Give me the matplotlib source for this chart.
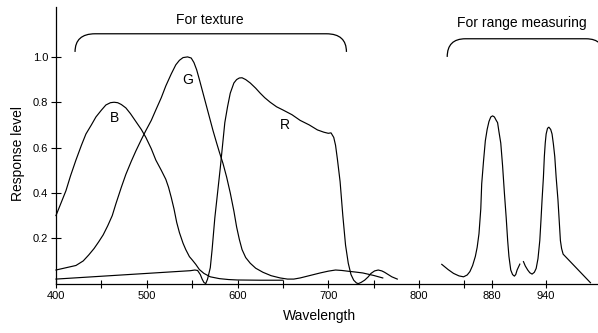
import matplotlib
matplotlib.use("Agg")
import matplotlib.pyplot as plt
from matplotlib.path import Path
from matplotlib.patches import PathPatch

plt.rcParams['font.family'] = ['Liberation Sans', 'DejaVu Sans']

# ---- data ----
b_wl = [400, 405, 411, 416, 422, 428, 433, 439, 444, 450, 455, 460, 464, 468, 472, 477, 482, 488, 494,
        499, 505, 510, 516, 521, 524, 527, 530, 533, 536, 540, 543, 547, 550, 554, 558, 563, 570, 580,
        590, 600, 625, 650]
b_val = [0.30, 0.35, 0.41, 0.475, 0.545, 0.61, 0.66, 0.70, 0.735, 0.765, 0.788, 0.798, 0.80, 0.798, 0.79,
         0.775, 0.75, 0.715, 0.68, 0.645, 0.595, 0.545, 0.50, 0.46, 0.425, 0.38, 0.33, 0.27, 0.225, 0.178,
         0.15, 0.119, 0.105, 0.085, 0.062, 0.045, 0.03, 0.022, 0.018, 0.016, 0.015, 0.015]

g_wl = [400, 411, 422, 430, 436, 442, 447, 452, 457, 462, 466, 472, 477, 483, 488, 494, 499, 505, 510,
        516, 521, 527, 532, 536, 540, 545, 549, 552, 555, 558, 562, 566, 570, 573, 577, 580, 584, 588,
        592, 596, 599, 602, 605, 609, 614, 620, 628, 637, 647, 655, 662, 669, 680, 691, 700, 708, 715,
        721, 730, 738, 750, 760]
g_val = [0.06, 0.07, 0.08, 0.10, 0.126, 0.155, 0.184, 0.215, 0.255, 0.30, 0.352, 0.425, 0.482, 0.54, 0.585,
         0.635, 0.675, 0.72, 0.766, 0.82, 0.872, 0.925, 0.965, 0.985, 0.997, 1.0, 0.995, 0.975, 0.943,
         0.90, 0.84, 0.78, 0.72, 0.675, 0.62, 0.58, 0.53, 0.47, 0.40, 0.32, 0.25, 0.195, 0.15, 0.115,
         0.09, 0.068, 0.05, 0.035, 0.025, 0.02, 0.02, 0.025, 0.036, 0.047, 0.055, 0.06, 0.058, 0.055,
         0.051, 0.047, 0.036, 0.025]

r_wl = [400, 480, 548, 553, 556, 559, 561, 563, 565, 567, 570, 572, 575, 578, 581, 584, 586, 589, 592,
        596, 599, 602, 605, 609, 614, 620, 625, 630, 636, 643, 650, 660, 669, 679, 688, 695, 700, 703,
        706, 708, 710, 713, 716, 719, 722, 725, 728, 731, 733, 736, 740, 744, 747, 751, 755, 759, 762,
        766, 770, 776]
r_val = [0.02, 0.04, 0.057, 0.06, 0.058, 0.04, 0.02, 0.005, 0.0, 0.02, 0.07, 0.15, 0.29, 0.40, 0.51,
         0.63, 0.71, 0.78, 0.84, 0.885, 0.90, 0.907, 0.908, 0.90, 0.885, 0.862, 0.84, 0.82, 0.80, 0.78,
         0.766, 0.745, 0.72, 0.70, 0.678, 0.668, 0.663, 0.665, 0.645, 0.61, 0.55, 0.45, 0.30, 0.17,
         0.09, 0.04, 0.015, 0.003, 0.0, 0.005, 0.015, 0.03, 0.045, 0.056, 0.06, 0.056, 0.05, 0.04,
         0.03, 0.02]

ir1_wl = [825, 832, 838, 844, 849, 853, 856, 859, 862, 864, 866, 868, 869, 871, 873, 875, 877, 879, 881,
          883, 885, 886.5, 888, 890, 892, 894, 896, 897.6, 899, 901, 903, 905, 906.5, 908, 911]
ir1_val = [0.085, 0.062, 0.045, 0.034, 0.03, 0.038, 0.053, 0.08, 0.12, 0.16, 0.22, 0.33, 0.44, 0.54,
           0.63, 0.68, 0.715, 0.735, 0.74, 0.735, 0.72, 0.71, 0.67, 0.62, 0.52, 0.40, 0.29, 0.19, 0.12,
           0.06, 0.04, 0.033, 0.04, 0.06, 0.086]

ir2_wl = [915, 917, 919.7, 922, 924.5, 927, 929, 931, 933, 934.3, 935.5, 937, 938, 939, 940, 941.5, 943,
          945, 946.5, 948, 949.5, 951, 953, 954.5, 955.7, 957, 958.7, 988.8]
ir2_val = [0.097, 0.078, 0.06, 0.048, 0.042, 0.05, 0.067, 0.11, 0.19, 0.28, 0.37, 0.47, 0.56, 0.62,
           0.66, 0.685, 0.69, 0.68, 0.66, 0.615, 0.56, 0.47, 0.37, 0.27, 0.19, 0.155, 0.13, 0.004]

curve_labels = ["B", "G", "R"]
curve_label_wl = [465, 545.5, 652]
curve_label_val = [0.73, 0.90, 0.70]

x_ticks = [400, 450, 500, 550, 600, 650, 700, 750, 800, 850, 880, 940]
x_tick_labels = ["400", "", "500", "", "600", "", "700", "", "800", "", "880", "940"]
y_ticks = [0.2, 0.4, 0.6, 0.8, 1.0]
y_tick_labels = ["0.2", "0.4", "0.6", "0.8", "1.0"]

groups = ["For texture", "For range measuring"]
group_start = [421, 831]
group_end = [720, 1004]
group_text_wl = [570, 913]

# ---- figure ----
fig = plt.figure(figsize=(5.98, 3.33), dpi=100)
ax = fig.add_axes([0.0936, 0.1483, 0.9047, 0.8306])

lw = 0.85
for wl, val in [(b_wl, b_val), (g_wl, g_val), (r_wl, r_val), (ir1_wl, ir1_val), (ir2_wl, ir2_val)]:
    ax.plot(wl, val, color='black', lw=lw, clip_on=False, solid_joinstyle='round')

for lab, xw, yv in zip(curve_labels, curve_label_wl, curve_label_val):
    ax.text(xw, yv, lab, ha='center', va='center', fontsize=10)

ax.set_xlim(400, 996)
ax.set_ylim(0, 1.22)
ax.spines['top'].set_visible(False)
ax.spines['right'].set_visible(False)
for s in ['left', 'bottom']:
    ax.spines[s].set_linewidth(0.9)

ax.set_xticks(x_ticks)
ax.set_xticklabels(x_tick_labels, fontsize=8)
ax.set_yticks(y_ticks)
ax.set_yticklabels(y_tick_labels, fontsize=8)
ax.tick_params(axis='x', direction='inout', length=6, width=0.8, pad=2)
ax.tick_params(axis='y', direction='inout', length=7, width=0.8, pad=2)

ax.set_xlabel("Wavelength", fontsize=10)
ax.set_ylabel("Response level", fontsize=10)
ax.xaxis.set_label_coords(0.487, -0.09)
ax.yaxis.set_label_coords(-0.058, 0.47)

# brackets
def bracket(x0, x1, ylow, yhigh, r):
    verts = [(x0, ylow), (x0, yhigh), (x0 + r, yhigh),
             (x1 - r, yhigh), (x1, yhigh), (x1, ylow)]
    codes = [Path.MOVETO, Path.CURVE3, Path.CURVE3,
             Path.LINETO, Path.CURVE3, Path.CURVE3]
    p = PathPatch(Path(verts, codes), fill=False, lw=0.9, color='black', clip_on=False)
    ax.add_patch(p)

bracket(group_start[0], group_end[0], 1.022, 1.102, 22)
bracket(group_start[1], group_end[1], 1.0, 1.08, 20)
ax.text(group_text_wl[0], 1.164, groups[0], ha='center', va='center', fontsize=10)
ax.text(group_text_wl[1], 1.15, groups[1], ha='center', va='center', fontsize=10)

fig.savefig("out.png", dpi=100)
